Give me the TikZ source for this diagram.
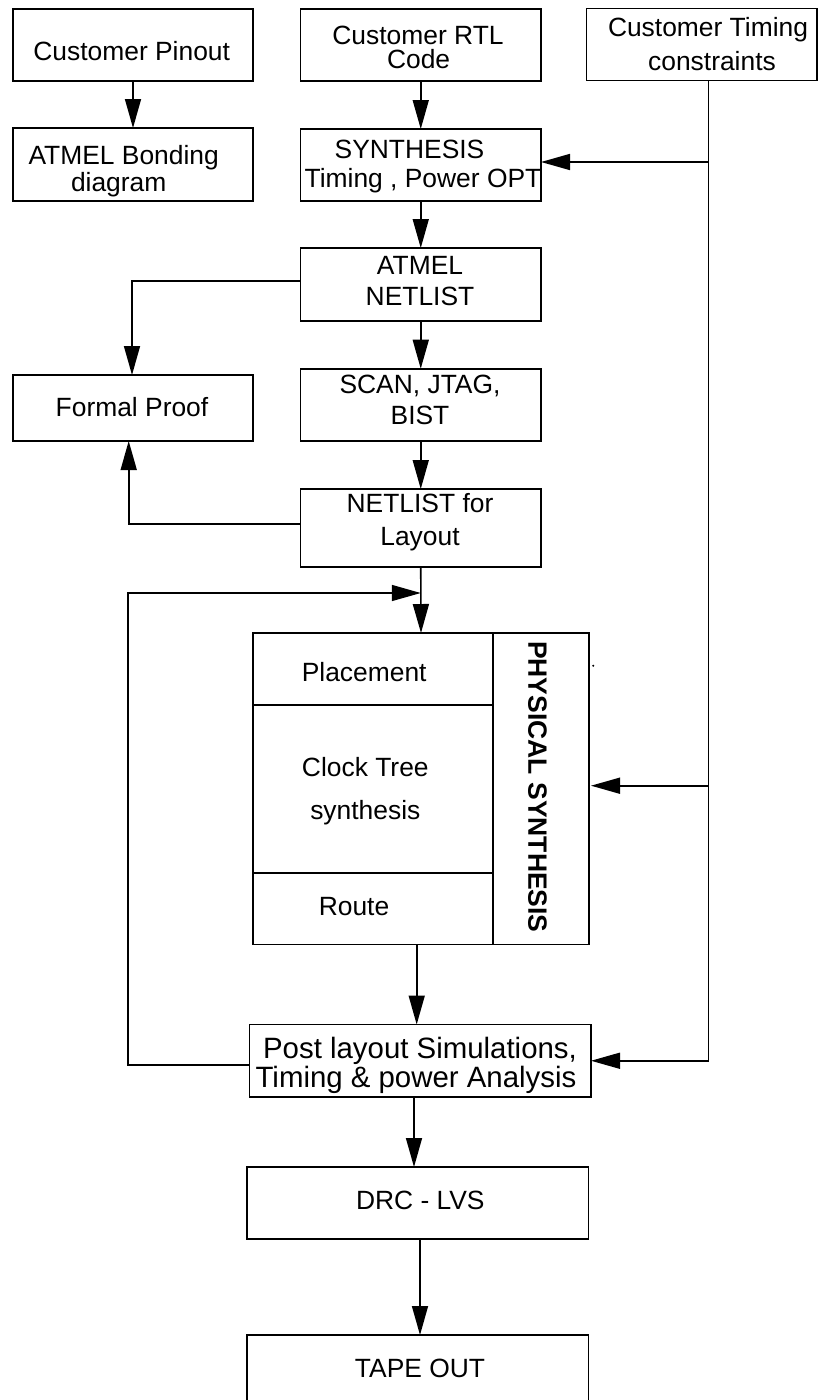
\documentclass[tikz,border=0pt]{standalone}
\usepackage{fontspec}
\setmainfont{Liberation Sans}
\usetikzlibrary{arrows.meta,calc}
\begin{document}
\begin{tikzpicture}[x=1pt,y=-1pt,
  box/.style={draw, line width=1.6pt, inner sep=0pt, outer sep=0pt},
  txt/.style={inner sep=0pt, anchor=base, font=\fontsize{26.4}{30}\selectfont},
  bigtxt/.style={inner sep=0pt, anchor=base, font=\fontsize{29.4}{32}\selectfont},
  link/.style={line width=1.6pt},
  arr/.style={link, -{Triangle[length=29pt,width=16pt]}}]
\useasboundingbox (0,0) rectangle (818,1400);

% boxes
\node[box, minimum width=240pt,   minimum height=72pt]   (pin)    at (133,45) {};
\node[box, minimum width=240.5pt, minimum height=72pt]   (rtl)    at (420.75,45) {};
\node[box, minimum width=230.5pt, minimum height=72pt]   (tim)    at (701.75,44.5) {};
\node[box, minimum width=240pt,   minimum height=73pt]   (bond)   at (133,164.5) {};
\node[box, minimum width=240.5pt, minimum height=72pt]   (syn)    at (420.75,165) {};
\node[box, minimum width=240.5pt, minimum height=73pt]   (anet)   at (420.75,284.5) {};
\node[box, minimum width=240pt,   minimum height=66pt]   (formal) at (133,408) {};
\node[box, minimum width=240.5pt, minimum height=72.3pt] (scan)   at (420.75,404.85) {};
\node[box, minimum width=240.5pt, minimum height=78pt]   (nfl)    at (420.75,528) {};
\node[box, minimum width=336pt,   minimum height=311.5pt] (phys)  at (421,788.75) {};
\node[box, minimum width=341.5pt, minimum height=72.5pt] (post)   at (420.25,1060.75) {};
\node[box, minimum width=341.6pt, minimum height=72pt]   (drc)    at (417.5,1203) {};
\node[box, minimum width=341.6pt, minimum height=67pt]   (tape)   at (417.5,1368.5) {};

% inner divisions of the physical synthesis block
\draw[link] ($(phys.north west)+(240,0)$) -- ($(phys.south west)+(240,0)$);
\draw[link] ($(phys.north west)+(0,72)$) -- ($(phys.north west)+(240,72)$);
\draw[link] ($(phys.north west)+(0,240)$) -- ($(phys.north west)+(240,240)$);

% texts
\node[txt] (tpin)  at (131.7,60)   {Customer Pinout};
\node[txt] (trtl1) at (418,44)     {Customer RTL};
\node[txt] (trtl2) at (418.6,68.3) {Code};
\node[txt] (ttim1) at (708,36.7)   {Customer Timing};
\node[txt] (ttim2) at (712,70)     {constraints};
\node[txt] (tbon1) at (123.7,164.3) {ATMEL Bonding};
\node[txt] (tbon2) at (118.7,191.7) {diagram};
\node[txt] (tsyn1) at (409.5,158.3) {SYNTHESIS};
\node[txt] (tsyn2) at (423,187.7)  {Timing , Power OPT};
\node[txt] (tan1)  at (420,274)    {ATMEL};
\node[txt] (tan2)  at (420,305)    {NETLIST};
\node[txt] (tfor)  at (132,416.7)  {Formal Proof};
\node[txt] (tsc1)  at (420,393)    {SCAN, JTAG,};
\node[txt] (tsc2)  at (420,424)    {BIST};
\node[txt] (tnf1)  at (420,512)    {NETLIST for};
\node[txt] (tnf2)  at (420,545)    {Layout};
\node[txt] (tpla)  at (364.2,681)  {Placement};
\node[txt] (tclk1) at (365.3,776.7) {Clock Tree};
\node[txt] (tclk2) at (365.3,819)  {synthesis};
\node[txt] (trou)  at (354,915)    {Route};
\node[inner sep=0pt, rotate=-90, font=\fontsize{26.5}{30}\selectfont\bfseries] (tphy) at (537.5,786.8) {PHYSICAL SYNTHESIS};
\node[bigtxt] (tpo1) at (420,1058.3) {Post layout Simulations,};
\node[bigtxt] (tpo2) at (416,1087.3) {Timing \& power Analysis};
\node[txt] (tdrc)  at (420.3,1209) {DRC - LVS};
\node[txt] (ttap)  at (420,1377)   {TAPE OUT};
\fill (593.3,665.7) circle (1.1pt);

% main flow
\draw[arr] (pin.south) -- (bond.north);
\draw[arr] (rtl.south) -- (syn.north);
\draw[arr] (syn.south) -- (anet.north);
\draw[arr] (anet.south) -- (scan.north);
\draw[arr] (scan.south) -- (nfl.north);
\draw[arr] (nfl.south) -- (phys.north);
\draw[arr] ([xshift=-4.3pt]phys.south) -- ([xshift=-4.3pt]phys.south |- post.north);
\draw[arr] ([xshift=-6.25pt]post.south) -- ([xshift=-6.25pt]post.south |- drc.north);
\draw[arr] ([xshift=2.5pt]drc.south) -- ([xshift=2.5pt]drc.south |- tape.north);

% formal proof branches
\draw[arr] ([yshift=3.5pt]anet.west) -| ([xshift=-1pt]formal.north);
\draw[arr] ([yshift=4pt]nfl.west) -| ([xshift=-4.3pt]formal.south);

% feedback loop
\coordinate (fbk) at (128,593);
\coordinate (fbt) at (420.75,593);
\draw[arr] ([yshift=-4pt]post.west) -| (fbk) -- (fbt);

% timing constraints bus
\coordinate (tv)  at (708.5,1060.75);
\coordinate (ts1) at (708.5,162);
\coordinate (ts2) at (708.5,785.7);
\draw[arr] (tim.south -| tv) -- (tv) -- (tv -| post.east);
\draw[arr] (ts1) -- (ts1 -| syn.east);
\draw[arr] (ts2) -- ([xshift=2pt]ts2 -| phys.east);
\end{tikzpicture}
\end{document}
